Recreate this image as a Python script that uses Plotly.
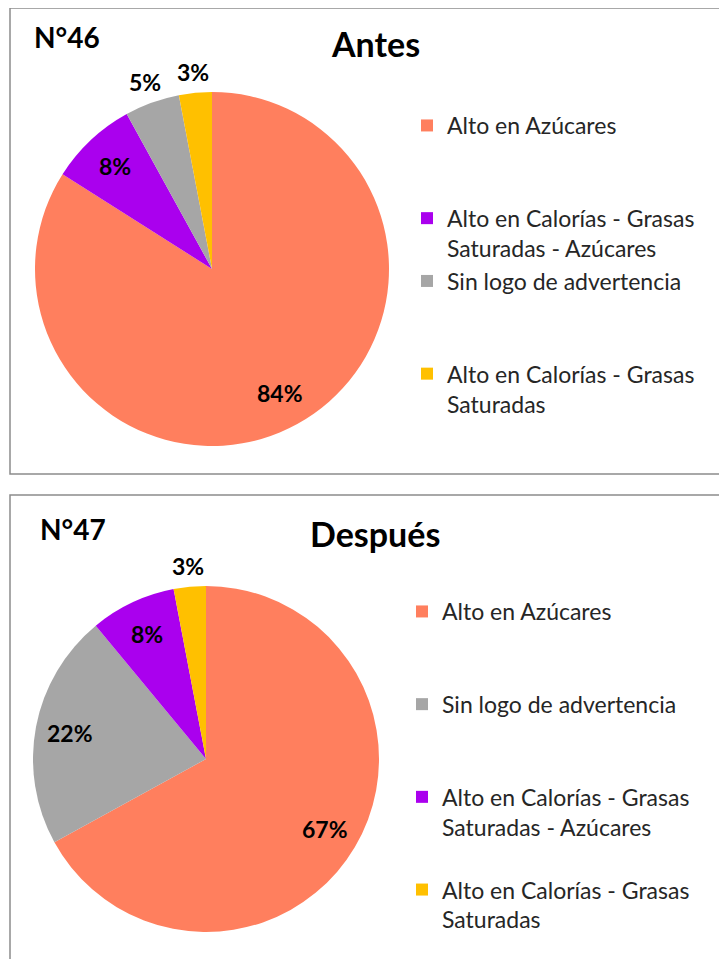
import math
import plotly.graph_objects as go

# ---- data ----
labels_antes = ["Alto en Azúcares",
                "Alto en Calorías - Grasas Saturadas - Azúcares",
                "Sin logo de advertencia",
                "Alto en Calorías - Grasas Saturadas"]
values_antes = [84, 8, 5, 3]

labels_despues = ["Alto en Azúcares",
                  "Sin logo de advertencia",
                  "Alto en Calorías - Grasas Saturadas - Azúcares",
                  "Alto en Calorías - Grasas Saturadas"]
values_despues = [67, 22, 8, 3]

# wrapped legend text (Excel-like wrapping), blank lines used only for spacing
wrap = {
    "Alto en Azúcares": "Alto en Azúcares",
    "Alto en Calorías - Grasas Saturadas - Azúcares": "Alto en Calorías - Grasas<br>Saturadas - Azúcares",
    "Sin logo de advertencia": "Sin logo de advertencia",
    "Alto en Calorías - Grasas Saturadas": "Alto en Calorías - Grasas<br>Saturadas",
}
pad_antes = [2, 0, 2, 0]
pad_despues = [2, 2, 1, 0]

colors = {
    "Alto en Azúcares": "#FF7F5E",
    "Alto en Calorías - Grasas Saturadas - Azúcares": "#AA00EE",
    "Sin logo de advertencia": "#A6A6A6",
    "Alto en Calorías - Grasas Saturadas": "#FFC000",
}

FONT = "Lato"
W, H = 719, 951   # page body has an 8px margin
OFF = 8


def px(x):
    return (x - OFF) / W


def py(y):
    return 1 - (y - OFF) / H


def legend_labels(labels, pads, suffix=""):
    return [wrap[l] + "<br>&nbsp;" * p + suffix for l, p in zip(labels, pads)]


def pct_annotations(values, cx, cy, r):
    """Percent labels positioned along each slice's mid-angle (clockwise from 12 o'clock)."""
    total = sum(values)
    out = []
    cum = 0
    for v in values:
        frac = v / total
        ang = 2 * math.pi * (cum + frac / 2)
        cum += frac
        k = 0.8 if frac >= 0.08 else 1.12
        x = cx + k * r * math.sin(ang)
        y = cy - k * r * math.cos(ang)
        out.append(dict(text="<b>%d%%</b>" % round(100 * frac), x=px(x), y=py(y),
                        xref="paper", yref="paper", xanchor="center", yanchor="middle",
                        showarrow=False, font=dict(family=FONT, size=23, color="black")))
    return out


# pie geometry in window pixels
top_box = dict(x0=35, x1=389, y0=92, y1=446)
bot_box = dict(x0=33, x1=379, y0=586, y1=932)

fig = go.Figure()

for labels, values, pads, box, leg, suffix in [
        (labels_antes, values_antes, pad_antes, top_box, "legend", ""),
        (labels_despues, values_despues, pad_despues, bot_box, "legend2", "\u200b")]:
    fig.add_trace(go.Pie(
        labels=legend_labels(labels, pads, suffix),
        values=values,
        sort=False, direction="clockwise", rotation=0,
        marker=dict(colors=[colors[l] for l in labels], line=dict(width=0)),
        textinfo="none",
        domain=dict(x=[px(box["x0"]), px(box["x1"])], y=[py(box["y1"]), py(box["y0"])]),
        legend=leg,
        hoverinfo="percent",
    ))

annotations = []
annotations += pct_annotations(values_antes, (top_box["x0"] + top_box["x1"]) / 2,
                               (top_box["y0"] + top_box["y1"]) / 2,
                               (top_box["x1"] - top_box["x0"]) / 2)
annotations += pct_annotations(values_despues, (bot_box["x0"] + bot_box["x1"]) / 2,
                               (bot_box["y0"] + bot_box["y1"]) / 2,
                               (bot_box["x1"] - bot_box["x0"]) / 2)

titles = [("<b>N°46</b>", 32, 37, "left", 28),
          ("<b>Antes</b>", 375, 44, "center", 34),
          ("<b>N°47</b>", 38, 529, "left", 28),
          ("<b>Después</b>", 375, 533, "center", 34)]
for t, x, y, anc, s in titles:
    annotations.append(dict(text=t, x=px(x), y=py(y), xref="paper", yref="paper",
                            xanchor=anc, yanchor="middle", showarrow=False,
                            font=dict(family=FONT, size=s, color="black")))

legend_common = dict(font=dict(family=FONT, size=23, color="#262626"),
                     valign="top", bgcolor="rgba(0,0,0,0)",
                     xanchor="left", yanchor="top", traceorder="normal")

fig.update_layout(
    width=W, height=H,
    margin=dict(l=0, r=0, t=0, b=0),
    paper_bgcolor="white",
    plot_bgcolor="white",
    legend=dict(x=px(407), y=py(104), **legend_common),
    legend2=dict(x=px(402), y=py(590), **legend_common),
    shapes=[
        dict(type="rect", xref="paper", yref="paper",
             x0=px(10), x1=1.02, y0=py(474), y1=py(8),
             line=dict(color="#8C8C8C", width=1.5)),
        dict(type="rect", xref="paper", yref="paper",
             x0=px(10), x1=1.02, y0=-0.02, y1=py(495),
             line=dict(color="#8C8C8C", width=1.5)),
    ],
    annotations=annotations,
)

fig.write_html("out.html")
